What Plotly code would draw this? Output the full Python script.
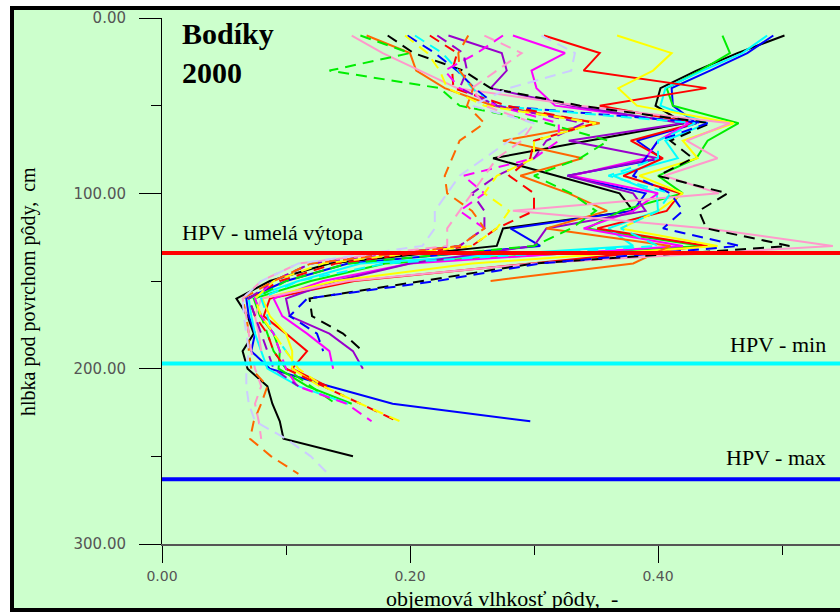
import plotly.graph_objects as go

# ---------------- data (depth in cm, volumetric soil moisture) ----------------
depth = [10, 20, 30, 40, 50, 60, 70, 80, 90, 100, 110, 120, 130,
         140, 150, 160, 170, 180, 190, 200, 210, 220, 230, 240, 250, 260]

# solid profiles
s_black = [0.502, 0.464, 0.431, 0.402, 0.398, 0.421, 0.344, 0.267, 0.318, 0.369, 0.380, 0.275, 0.270,
           0.135, 0.087, 0.060, 0.069, 0.074, 0.065, 0.069, 0.085, 0.089, 0.095, 0.098, 0.154]
s_blue = [0.493, 0.472, 0.442, 0.411, 0.412, 0.431, 0.383, 0.403, 0.327, 0.390, 0.380, 0.281, 0.305,
          0.150, 0.100, 0.068, 0.070, 0.075, 0.072, 0.087, 0.135, 0.186, 0.297]
s_green = [0.452, 0.458, 0.434, 0.407, 0.412, 0.465, 0.440, 0.431, 0.400, 0.420, 0.370, 0.343, 0.436,
           0.180, 0.120, 0.074, 0.079, 0.090, 0.095, 0.094, 0.117, 0.153]
s_cyan = [0.488, 0.468, 0.436, 0.406, 0.402, 0.440, 0.406, 0.416, 0.364, 0.399, 0.400, 0.360, 0.380,
          0.160, 0.110, 0.070, 0.072, 0.075, 0.080, 0.085, 0.110, 0.150]
s_red = [0.308, 0.353, 0.340, 0.439, 0.353, 0.430, 0.378, 0.404, 0.372, 0.418, 0.407, 0.351, 0.440,
         0.300, 0.155, 0.087, 0.082, 0.100, 0.117, 0.105, 0.133]
s_magenta = [0.283, 0.325, 0.298, 0.302, 0.317, 0.425, 0.400, 0.390, 0.330, 0.400, 0.380, 0.340, 0.420,
             0.200, 0.130, 0.090, 0.097, 0.117, 0.135, 0.138]
s_purple = [0.231, 0.274, 0.278, 0.265, 0.330, 0.420, 0.328, 0.400, 0.327, 0.380, 0.390, 0.310, 0.300,
            0.200, 0.140, 0.100, 0.103, 0.135, 0.154, 0.162]
s_yellow = [0.367, 0.411, 0.396, 0.368, 0.383, 0.461, 0.420, 0.432, 0.385, 0.420, 0.400, 0.370, 0.448,
            0.250, 0.140, 0.081, 0.087, 0.100, 0.105, 0.105, 0.127]
s_orange = [0.165, 0.200, 0.205, 0.228, 0.267, 0.353, 0.275, 0.339, 0.289, 0.328, 0.359, 0.310, 0.410,
            0.380, 0.265]
s_pink = [0.153, 0.178, 0.208, 0.238, 0.337, 0.458, 0.423, 0.448, 0.405, 0.449, 0.283, 0.440, 0.541,
          0.300, 0.150, 0.080, 0.075, 0.078, 0.080]

# dashed profiles
d_black = [0.182, 0.203, 0.243, 0.265, 0.337, 0.442, 0.410, 0.428, 0.400, 0.456, 0.433, 0.439, 0.506,
           0.300, 0.210, 0.119, 0.121, 0.146, 0.162]
d_blue = [0.198, 0.220, 0.238, 0.252, 0.270, 0.440, 0.400, 0.390, 0.380, 0.410, 0.420, 0.404, 0.466,
          0.305, 0.222, 0.117, 0.103, 0.125, 0.130]
d_green = [0.160, 0.200, 0.135, 0.224, 0.240, 0.310, 0.360, 0.337, 0.300, 0.330, 0.350, 0.330, 0.300,
           0.150, 0.100, 0.075, 0.080, 0.085, 0.090, 0.100, 0.120, 0.140]
d_cyan = [0.204, 0.226, 0.239, 0.250, 0.267, 0.430, 0.400, 0.400, 0.360, 0.410, 0.400, 0.370, 0.400,
          0.180, 0.110, 0.080, 0.085, 0.090, 0.100, 0.110]
d_red = [0.216, 0.238, 0.234, 0.235, 0.278, 0.350, 0.300, 0.297, 0.280, 0.300, 0.300, 0.270, 0.250,
         0.140, 0.095, 0.070, 0.075, 0.085, 0.090, 0.100, 0.130, 0.160, 0.190]
d_magenta = [0.275, 0.254, 0.228, 0.240, 0.270, 0.320, 0.320, 0.300, 0.243, 0.260, 0.240, 0.260, 0.240,
             0.120, 0.090, 0.075, 0.080, 0.090, 0.095, 0.100, 0.109, 0.149, 0.169]
d_purple = [0.222, 0.243, 0.246, 0.240, 0.270, 0.340, 0.310, 0.300, 0.270, 0.250, 0.260, 0.260, 0.240,
            0.120, 0.090, 0.070, 0.075, 0.080, 0.085, 0.090, 0.110]
d_yellow = [0.196, 0.214, 0.224, 0.230, 0.260, 0.350, 0.300, 0.300, 0.270, 0.260, 0.280, 0.270, 0.250,
            0.130, 0.090, 0.075, 0.080, 0.090, 0.100, 0.110, 0.130, 0.160, 0.192]
d_orange = [0.247, 0.239, 0.240, 0.251, 0.246, 0.260, 0.240, 0.234, 0.228, 0.230, 0.250, 0.260, 0.240,
            0.120, 0.090, 0.065, 0.068, 0.070, 0.070, 0.072, 0.085, 0.080, 0.074, 0.071, 0.088, 0.110]
d_pink = [0.260, 0.290, 0.270, 0.250, 0.260, 0.300, 0.290, 0.270, 0.260, 0.250, 0.240, 0.230, 0.230,
          0.110, 0.080, 0.065, 0.068, 0.070, 0.072, 0.075, 0.080, 0.075, 0.078, 0.080]
d_lavender = [0.306, 0.333, 0.330, 0.280, 0.250, 0.300, 0.280, 0.260, 0.240, 0.230, 0.220, 0.220, 0.210,
              0.110, 0.080, 0.065, 0.066, 0.068, 0.070, 0.068, 0.068, 0.070, 0.075, 0.100, 0.120, 0.134]

solid_series = [s_black, s_blue, s_green, s_cyan, s_red, s_magenta, s_purple, s_yellow, s_orange, s_pink]
solid_colors = ["#000000", "#0000ff", "#00ee00", "#00ffff", "#ff0000", "#ff00ff", "#9900cc",
                "#ffff00", "#ff6600", "#ff99cc"]
dashed_series = [d_black, d_blue, d_green, d_cyan, d_red, d_magenta, d_purple, d_yellow, d_orange,
                 d_pink, d_lavender]
dashed_colors = ["#000000", "#0000ff", "#00ee00", "#00ffff", "#ff0000", "#ff00ff", "#9900cc",
                 "#ffff00", "#ff6600", "#ff99cc", "#ccccff"]

# groundwater levels (cm)
hpv_names = ["HPV - umelá výtopa", "HPV - min", "HPV - max"]
hpv_depths = [134, 197, 263]
hpv_colors = ["#ff0000", "#00ffff", "#0000ff"]

x_ticks = [0.0, 0.2, 0.4]
x_ticktext = ["0.00", "0.20", "0.40"]
y_ticks = [0, 100, 200, 300]
y_ticktext = ["0.00", "100.00", "200.00", "300.00"]

# ---------------- figure ----------------
W, H = 840, 612
L, R, T, B = 162, 0, 18, 68
PW, PH = W - L - R, H - T - B


def px(xpix):
    return (xpix - L) / PW


def py(ypix):
    return (H - B - ypix) / PH


fig = go.Figure()

for vals, col in zip(solid_series, solid_colors):
    fig.add_trace(go.Scatter(x=vals, y=depth[:len(vals)], mode="lines",
                             line=dict(color=col, width=2), hoverinfo="skip"))
for vals, col in zip(dashed_series, dashed_colors):
    fig.add_trace(go.Scatter(x=vals, y=depth[:len(vals)], mode="lines",
                             line=dict(color=col, width=2, dash="11px,7px"), hoverinfo="skip"))

shapes = [dict(type="rect", xref="paper", yref="paper",
               x0=px(12), x1=px(900), y0=py(610), y1=py(8),
               line=dict(color="black", width=4), fillcolor="#ccffcc", layer="below")]
for d, c in zip(hpv_depths, hpv_colors):
    shapes.append(dict(type="line", xref="x", yref="y", x0=0, x1=0.6, y0=d, y1=d,
                       line=dict(color=c, width=4), layer="above"))

serif = "Liberation Serif"
annotations = [
    dict(text="<b>Bodíky<br>2000</b>", xref="paper", yref="paper", x=px(180), y=py(53),
         xanchor="left", yanchor="middle", align="left", showarrow=False,
         font=dict(family=serif, size=30, color="black")),
    dict(text=hpv_names[0], xref="paper", yref="paper", x=px(180), y=py(232),
         xanchor="left", yanchor="middle", showarrow=False,
         font=dict(family=serif, size=22, color="black")),
    dict(text=hpv_names[1], xref="paper", yref="paper", x=px(728), y=py(345),
         xanchor="left", yanchor="middle", showarrow=False,
         font=dict(family=serif, size=22, color="black")),
    dict(text=hpv_names[2], xref="paper", yref="paper", x=px(724), y=py(457),
         xanchor="left", yanchor="middle", showarrow=False,
         font=dict(family=serif, size=22, color="black")),
    dict(text="objemová vlhkosť pôdy,  -", xref="paper", yref="paper", x=px(502), y=py(598),
         xanchor="center", yanchor="middle", showarrow=False, borderpad=0,
         font=dict(family=serif, size=22, color="black")),
    dict(text="hlbka pod povrchom pôdy,  cm", xref="paper", yref="paper", x=px(28), y=py(292),
         xanchor="center", yanchor="middle", showarrow=False, textangle=-90,
         font=dict(family=serif, size=20, color="black")),
]

ytickfont = dict(family="DejaVu Sans", size=15, color="#555555")
xtickfont = dict(family="DejaVu Sans", size=14, color="#555555")

fig.update_layout(
    width=W, height=H,
    margin=dict(l=L, r=R, t=T, b=B, pad=0),
    paper_bgcolor="white",
    plot_bgcolor="#ccffcc",
    showlegend=False,
    hovermode=False,
    shapes=shapes,
    annotations=annotations,
    xaxis=dict(range=[0, PW / 1240], showgrid=False, zeroline=False,
               showline=True, linecolor="#555555", linewidth=2,
               tickmode="array", tickvals=x_ticks, ticktext=x_ticktext,
               ticks="outside", ticklen=17, tickwidth=1, tickcolor="black",
               ticklabelstandoff=1, tickfont=xtickfont,
               minor=dict(tickmode="array", tickvals=[0.1, 0.3, 0.5], ticks="outside",
                          ticklen=9, tickwidth=1, tickcolor="black", showgrid=False)),
    yaxis=dict(range=[300, 0], showgrid=False, zeroline=False,
               showline=True, linecolor="black", linewidth=1,
               tickmode="array", tickvals=y_ticks, ticktext=y_ticktext,
               ticks="outside", ticklen=22, tickwidth=1, tickcolor="black",
               ticklabelstandoff=10, tickfont=ytickfont,
               minor=dict(tickmode="array", tickvals=[50, 150, 250], ticks="outside",
                          ticklen=10, tickwidth=1, tickcolor="black", showgrid=False)),
)

fig.write_html("out.html")
